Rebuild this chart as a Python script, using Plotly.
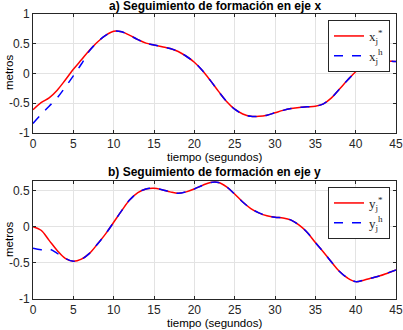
import plotly.graph_objects as go

# ---- data ----
t = list(range(0, 46))

x_ref = [-0.61, -0.49, -0.41, -0.28, -0.11, 0.07, 0.23, 0.39, 0.53, 0.64,
         0.71, 0.70, 0.64, 0.57, 0.51, 0.48, 0.45, 0.42, 0.37, 0.29,
         0.19, 0.05, -0.12, -0.30, -0.47, -0.60, -0.68, -0.72, -0.72, -0.70,
         -0.66, -0.62, -0.59, -0.57, -0.56, -0.55, -0.51, -0.41, -0.26, -0.11,
         0.03, 0.14, 0.20, 0.21, 0.21, 0.20]
x_h = [-0.84, -0.69, -0.55, -0.41, -0.23, -0.04, 0.16, 0.38, 0.53, 0.64,
       0.71, 0.70, 0.64, 0.57, 0.51, 0.48, 0.45, 0.42, 0.37, 0.29,
       0.19, 0.05, -0.12, -0.30, -0.47, -0.60, -0.68, -0.72, -0.72, -0.70,
       -0.66, -0.62, -0.59, -0.57, -0.56, -0.55, -0.51, -0.41, -0.26, -0.11,
       0.03, 0.14, 0.20, 0.21, 0.21, 0.20]

y_ref = [0.00, -0.05, -0.19, -0.33, -0.44, -0.48, -0.45, -0.37, -0.24, -0.10,
         0.06, 0.22, 0.37, 0.47, 0.52, 0.53, 0.51, 0.48, 0.46, 0.48,
         0.52, 0.57, 0.61, 0.61, 0.55, 0.45, 0.34, 0.25, 0.19, 0.15,
         0.13, 0.12, 0.09, 0.02, -0.08, -0.22, -0.35, -0.49, -0.62, -0.71,
         -0.76, -0.74, -0.71, -0.68, -0.64, -0.60]
y_h = [-0.30, -0.32, -0.31, -0.37, -0.44, -0.48, -0.45, -0.37, -0.24, -0.10,
       0.06, 0.22, 0.37, 0.47, 0.52, 0.53, 0.51, 0.48, 0.46, 0.48,
       0.52, 0.57, 0.61, 0.61, 0.55, 0.45, 0.34, 0.25, 0.19, 0.15,
       0.13, 0.12, 0.09, 0.02, -0.08, -0.22, -0.35, -0.49, -0.62, -0.71,
       -0.76, -0.74, -0.71, -0.68, -0.64, -0.60]

x_ticks = [0, 5, 10, 15, 20, 25, 30, 35, 40, 45]
y_ticks_top = [-1, -0.5, 0, 0.5, 1]
y_ticks_bot = [-1, -0.5, 0, 0.5]

title_a = "a) Seguimiento de formación en eje x"
title_b = "b) Seguimiento de formación en eje y"
x_title = "tiempo (segundos)"
y_title = "metros"

W, H = 403, 330
fig = go.Figure()

red = "#ff0000"
blue = "#0000ff"
lw = 1.5

fig.add_trace(go.Scatter(x=t, y=x_ref, mode="lines", line=dict(color=red, width=lw, shape="spline"),
                         name="x<sub>j</sub><sup>*</sup>", xaxis="x", yaxis="y", legend="legend"))
fig.add_trace(go.Scatter(x=t, y=x_h, mode="lines", line=dict(color=blue, width=lw, dash="dash", shape="spline"),
                         name="x<sub>j</sub><sup>h</sup>", xaxis="x", yaxis="y", legend="legend"))
fig.add_trace(go.Scatter(x=t, y=y_ref, mode="lines", line=dict(color=red, width=lw, shape="spline"),
                         name="y<sub>j</sub><sup>*</sup>", xaxis="x2", yaxis="y2", legend="legend2"))
fig.add_trace(go.Scatter(x=t, y=y_h, mode="lines", line=dict(color=blue, width=lw, dash="dash", shape="spline"),
                         name="y<sub>j</sub><sup>h</sup>", xaxis="x2", yaxis="y2", legend="legend2"))

axcol = "#262626"
gridcol = "#e3e3e3"
tickfont = dict(family="Liberation Sans, Arial", size=12, color=axcol)

XL, XR = 33, 396
xdom = [XL / W, XR / W]
common_x = dict(range=[0, 45], tickvals=x_ticks, showgrid=True, gridcolor=gridcol, gridwidth=1,
                showline=True, linecolor=axcol, linewidth=1, mirror="ticks", ticks="inside",
                ticklen=3, tickcolor=axcol, tickfont=tickfont, zeroline=False, domain=xdom,
                automargin=False, ticklabeloverflow="allow")
common_y = dict(showgrid=True, gridcolor=gridcol, gridwidth=1, showline=True, linecolor=axcol,
                linewidth=1, mirror="ticks", ticks="inside", ticklen=3, tickcolor=axcol,
                tickfont=tickfont, zeroline=False, automargin=False, ticklabeloverflow="allow")

leg_font = dict(family="Liberation Serif", size=13, color=axcol)
fig.update_layout(
    width=W, height=H,
    margin=dict(l=0, r=0, t=0, b=0),
    paper_bgcolor="white", plot_bgcolor="white",
    xaxis=dict(**common_x, anchor="y"),
    yaxis=dict(**common_y, range=[-1, 1], tickvals=y_ticks_top, ticktext=["-1", "-0.5", "0", "0.5", "1"],
               domain=[1 - 133 / H, 1 - 14 / H], anchor="x"),
    xaxis2=dict(**common_x, anchor="y2"),
    yaxis2=dict(**common_y, range=[-1, 0.63], tickvals=y_ticks_bot, ticktext=["-1", "-0.5", "0", "0.5"],
                domain=[1 - 299 / H, 1 - 181 / H], anchor="x2"),
    legend=dict(x=390 / W, y=1 - 20 / H, xanchor="right", yanchor="top", bgcolor="white",
                bordercolor=axcol, borderwidth=1, font=leg_font, tracegroupgap=0, itemwidth=30),
    legend2=dict(x=390 / W, y=1 - 187 / H, xanchor="right", yanchor="top", bgcolor="white",
                 bordercolor=axcol, borderwidth=1, font=leg_font, tracegroupgap=0, itemwidth=30),
    showlegend=True,
)

ann_font = dict(family="Liberation Sans, Arial", size=11.5, color="black")
title_font = dict(family="Liberation Sans, Arial", size=12, color="black")
cx = (XL + XR) / 2 / W
anns = [
    dict(text="<b>" + title_a + "</b>", x=cx, y=1 - 6 / H, font=title_font),
    dict(text="<b>" + title_b + "</b>", x=cx, y=1 - 172 / H, font=title_font),
    dict(text=x_title, x=cx, y=1 - 157 / H, font=ann_font),
    dict(text=x_title, x=cx, y=1 - 323 / H, font=ann_font),
    dict(text=y_title, x=9 / W, y=1 - 73 / H, font=ann_font, textangle=-90),
    dict(text=y_title, x=9 / W, y=1 - 240 / H, font=ann_font, textangle=-90),
]
for a in anns:
    fig.add_annotation(xref="paper", yref="paper", showarrow=False, xanchor="center", yanchor="middle", **a)

fig.write_html("out.html", config={"displayModeBar": False},
               post_script="document.body.style.margin='0';document.body.style.overflow='hidden';")
